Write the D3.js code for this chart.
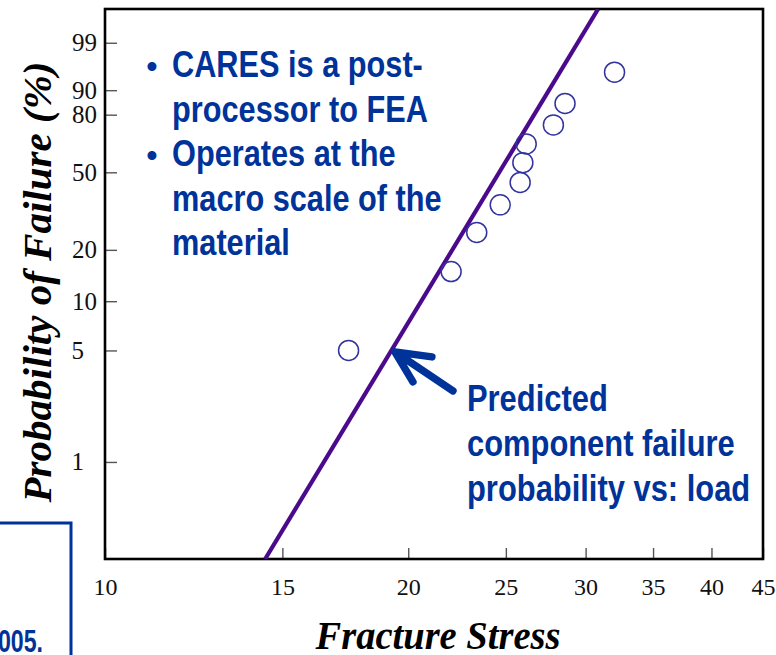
<!DOCTYPE html>
<html><head><meta charset="utf-8">
<script src="https://cdn.jsdelivr.net/npm/d3@7"></script>
<style>body{margin:0;background:#fff;overflow:hidden} svg{display:block}</style>
</head><body>
<svg id="chart" width="776" height="655"></svg>
<script>
// ---- data ----
const stressValues = [17.45, 22.06, 23.39, 24.68, 25.83, 25.99, 26.19, 27.87, 28.62, 32.05];
const failureProbabilities = [0.05, 0.15, 0.25, 0.35, 0.45, 0.55, 0.65, 0.75, 0.85, 0.95];
const predictedStress = [14.42, 30.87];
const predictedProbabilities = [0.00243, 0.99947];
const xTickValues = [10, 15, 20, 25, 30, 35, 40, 45];
const xTickLabels = ["10", "15", "20", "25", "30", "35", "40", "45"];
const yTickValues = [0.01, 0.05, 0.10, 0.20, 0.50, 0.80, 0.90, 0.99];
const yTickLabels = ["1", "5", "10", "20", "50", "80", "90", "99"];
const bulletItems = [["CARES is a post-", "processor to FEA"], ["Operates at the", "macro scale of the", "material"]];
const annotationLines = ["Predicted", "component failure", "probability vs: load"];
const arrowTip = {stress: 19.4, prob: 0.049};
const xTitle = "Fracture Stress";
const yTitle = "Probability of Failure  (%)";
const footnote = "2005.";

// ---- layout ----
const W = 776, H = 655;
const plot = {left: 105, right: 763, top: 9, bottom: 559};
const blue = "#003399";
const serif = "'Liberation Serif','Times New Roman',serif";
const sans = "'Liberation Sans',Arial,sans-serif";

const svg = d3.select("#chart");

const weibull = p => Math.log(-Math.log(1 - p));
const x = d3.scaleLog().domain([10, 45]).range([plot.left, plot.right]);
const yLin = d3.scaleLinear().domain([weibull(0.00243), weibull(0.99947)]).range([plot.bottom, plot.top]);
const y = p => yLin(weibull(p));

svg.append("defs").append("clipPath").attr("id", "clip")
  .append("rect").attr("x", plot.left).attr("y", plot.top)
  .attr("width", plot.right - plot.left).attr("height", plot.bottom - plot.top);

// x axis
const xAxis = svg.append("g").attr("transform", `translate(0,${plot.bottom})`)
  .call(d3.axisBottom(x).tickValues(xTickValues).tickFormat((d, i) => xTickLabels[i]).tickSize(-11).tickPadding(19));
xAxis.select(".domain").remove();
xAxis.selectAll(".tick line").attr("stroke", "#555").attr("stroke-width", 1.4);
xAxis.selectAll(".tick text").attr("font-family", serif).attr("font-size", 24).attr("fill", "#111");

// y axis
const yAxis = svg.append("g").attr("transform", `translate(${plot.left},0)`)
  .call(d3.axisLeft(yLin).tickValues(yTickValues.map(weibull)).tickFormat((d, i) => yTickLabels[i]).tickSize(-12).tickPadding(8));
yAxis.select(".domain").remove();
yAxis.selectAll(".tick line").attr("stroke", "#555").attr("stroke-width", 1.4);
yAxis.selectAll(".tick text").attr("font-family", serif).attr("font-size", 25).attr("fill", "#111")
  .attr("dx", (d, i) => yTickLabels[i].length === 1 ? -13 : 0);

// frame
svg.append("rect").attr("x", plot.left).attr("y", plot.top)
  .attr("width", plot.right - plot.left).attr("height", plot.bottom - plot.top)
  .attr("fill", "none").attr("stroke", "#000").attr("stroke-width", 2.6);

// predicted line
const lineData = predictedStress.map((s, i) => [s, predictedProbabilities[i]]);
svg.append("path").datum(lineData).attr("clip-path", "url(#clip)")
  .attr("d", d3.line().x(d => x(d[0])).y(d => y(d[1])))
  .attr("fill", "none").attr("stroke", "#4b0a8c").attr("stroke-width", 4.2);

// data points
svg.append("g").selectAll("circle").data(stressValues).join("circle")
  .attr("cx", d => x(d)).attr("cy", (d, i) => y(failureProbabilities[i]))
  .attr("r", 10).attr("fill", "none").attr("stroke", "#33339e").attr("stroke-width", 1.5);

// bullet text
const bulletG = svg.append("g").attr("fill", blue).attr("font-family", sans).attr("font-weight", "bold").attr("font-size", 37);
let lineIdx = 0;
bulletItems.forEach(item => {
  item.forEach((t, j) => {
    const by = 77 + lineIdx * 44.5;
    if (j === 0) bulletG.append("text").attr("x", 152).attr("y", by).attr("text-anchor", "middle").attr("font-size", 31).text("\u2022");
    bulletG.append("text").attr("transform", `translate(172,${by}) scale(0.83,1)`).text(t);
    lineIdx++;
  });
});

// annotation
const annG = svg.append("g").attr("fill", blue).attr("font-family", sans).attr("font-weight", "bold").attr("font-size", 37);
annG.selectAll("text").data(annotationLines).join("text")
  .attr("transform", (d, i) => `translate(467,${411 + i * 45}) scale(0.835,1)`).text(d => d);

// arrow
const tx = x(arrowTip.stress), ty = y(arrowTip.prob);
svg.append("path")
  .attr("d", `M${tx + 37},${ty + 5} L${tx},${ty} L${tx + 18},${ty + 30} M${tx},${ty} L${tx + 58},${ty + 39}`)
  .attr("fill", "none").attr("stroke", blue).attr("stroke-width", 7.5)
  .attr("stroke-linecap", "round").attr("stroke-linejoin", "round");

// axis titles
svg.append("text").attr("x", 438).attr("y", 649)
  .attr("text-anchor", "middle").attr("font-family", serif).attr("font-weight", "bold").attr("font-style", "italic")
  .attr("font-size", 39).attr("textLength", 245).attr("lengthAdjust", "spacingAndGlyphs").text(xTitle);
svg.append("text").attr("transform", `translate(51,282) rotate(-90)`)
  .attr("text-anchor", "middle").attr("font-family", serif).attr("font-weight", "bold").attr("font-style", "italic")
  .attr("font-size", 40).attr("textLength", 441).attr("lengthAdjust", "spacingAndGlyphs").text(yTitle);

// partial box and footnote at left
svg.append("path").attr("d", `M-5,523 L71,523 L71,${H + 5}`)
  .attr("fill", "none").attr("stroke", blue).attr("stroke-width", 3);
svg.append("text").attr("x", -15).attr("y", 652).attr("fill", blue)
  .attr("font-family", sans).attr("font-weight", "bold").attr("font-size", 32)
  .attr("textLength", 58).attr("lengthAdjust", "spacingAndGlyphs").text(footnote);
</script>
</body></html>
